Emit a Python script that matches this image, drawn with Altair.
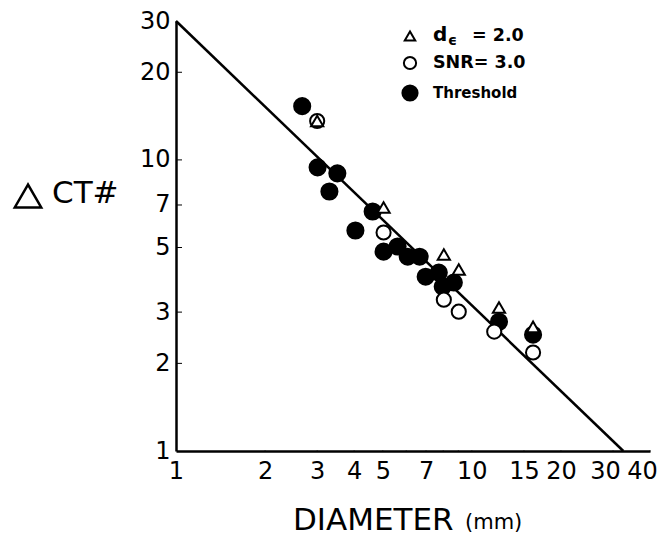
import altair as alt
import pandas as pd

# ---- data ----
tri_d  = [3.0, 5.03, 8.04, 9.03, 12.35, 16.1]
tri_ct = [13.6, 6.86, 4.73, 4.20, 3.11, 2.67]

snr_d  = [3.0, 5.03, 8.04, 9.03, 11.9, 16.1]
snr_ct = [13.6, 5.63, 3.31, 3.01, 2.57, 2.18]

thr_d  = [2.67, 3.01, 3.51, 3.30, 4.04, 4.62, 5.03, 5.61, 6.07, 6.66, 6.98, 7.73, 7.97, 8.69, 12.35, 16.1]
thr_ct = [15.3, 9.43, 8.99, 7.79, 5.72, 6.65, 4.84, 5.04, 4.65, 4.65, 3.97, 4.10, 3.67, 3.79, 2.78, 2.51]

line_d  = [1.0, 32.5]
line_ct = [30.0, 1.0]

x_labels = [1, 2, 3, 4, 5, 7, 10, 15, 20, 30, 40]
y_labels = [1, 2, 3, 5, 7, 10, 20, 30]
x_ticks = [2, 3, 4, 5, 6, 7, 8, 9, 10, 15, 20, 30, 40]
y_ticks = [2, 3, 5, 7, 10, 20]

legend_labels = ["SNR= 3.0", "Threshold"]

W, H = 474, 430
FONT = "DejaVu Sans"

xscale = alt.Scale(type="log", domain=[1, 40], nice=False)
yscale = alt.Scale(type="log", domain=[1, 30], nice=False)

xaxis = alt.Axis(values=x_labels, title=None, grid=False, ticks=False,
                 domainColor="black", domainWidth=2.5, labelColor="black",
                 labelFont=FONT, labelFontSize=24, labelPadding=8,
                 labelOverlap=False, labelFlush=False, labelBound=False,
                 labelOffset={"condition": {"test": "datum.value >= 30", "value": -8}, "value": 0},
                 format="d")
yaxis = alt.Axis(values=y_labels, title=None, grid=False, ticks=False,
                 domainColor="black", domainWidth=2.5, labelColor="black",
                 labelFont=FONT, labelFontSize=24, labelPadding=6,
                 labelOverlap=False, labelFlush=False, labelBound=False,
                 format="d")

def X(f):
    return alt.X(f, type="quantitative", scale=xscale, axis=xaxis)

def Y(f):
    return alt.Y(f, type="quantitative", scale=yscale, axis=yaxis)

line = alt.Chart(pd.DataFrame({"d": line_d, "ct": line_ct})).mark_line(
    color="black", strokeWidth=2.5).encode(x=X("d"), y=Y("ct"))

thr = alt.Chart(pd.DataFrame({"d": thr_d, "ct": thr_ct})).mark_point(
    shape="circle", filled=True, fill="black", stroke="black", size=260,
    opacity=1).encode(x=X("d"), y=Y("ct"))

snr = alt.Chart(pd.DataFrame({"d": snr_d, "ct": snr_ct})).mark_point(
    shape="circle", filled=False, fill="white", fillOpacity=1, stroke="black",
    strokeWidth=2, size=200, opacity=1).encode(x=X("d"), y=Y("ct"))

tri = alt.Chart(pd.DataFrame({"d": tri_d, "ct": tri_ct})).mark_point(
    shape="triangle-up", filled=False, fill="white", fillOpacity=1, stroke="black",
    strokeWidth=2, size=150, opacity=1).encode(x=X("d"), y=Y("ct"))

# inward tick marks drawn as thin filled bars (rect marks) sitting on the axis lines
xt = alt.Chart(pd.DataFrame({"v": x_ticks})).mark_square(
    shape="M-1,0L1,0L1,-11L-1,-11Z", color="black", filled=True, size=1, opacity=1).encode(
    x=X("v"), y=alt.value(H))
yt = alt.Chart(pd.DataFrame({"w": y_ticks})).mark_point(
    shape="M0,-1L12,-1L12,1L0,1Z", color="black", filled=True, size=1, opacity=1).encode(
    y=Y("w"), x=alt.value(0))

# ---- legend (drawn by hand, top right) ----
one = pd.DataFrame({"t": [""]})
lx, ltx = 234, 257
leg_tri = alt.Chart(one).mark_point(shape="triangle-up", stroke="black",
    strokeWidth=2, size=110, fill="white", filled=False, fillOpacity=1, opacity=1
    ).encode(x=alt.value(lx), y=alt.value(15))
leg_snr = alt.Chart(one).mark_point(shape="circle", stroke="black",
    strokeWidth=2, size=150, fill="white", filled=False, fillOpacity=1, opacity=1
    ).encode(x=alt.value(lx), y=alt.value(42))
leg_thr = alt.Chart(one).mark_point(shape="circle", stroke="black", fill="black",
    filled=True, size=230, opacity=1).encode(x=alt.value(lx), y=alt.value(72))

def txt(s, x, y, size=16, weight="bold", baseline="middle"):
    return alt.Chart(pd.DataFrame({"t": [s]})).mark_text(
        align="left", baseline=baseline, font=FONT, fontSize=size,
        fontWeight=weight, color="black").encode(
        text="t:N", x=alt.value(x), y=alt.value(y))

leg_t1 = txt("d", ltx, 14, 20)
leg_t1e = txt("\u03f5", ltx + 15, 20, 14)
leg_t1b = txt("= 2.0", ltx + 39, 15, 17.5)
leg_t2 = txt(legend_labels[0], ltx, 42, 17.5)
leg_t3 = txt(legend_labels[1], ltx, 72, 15)

# axis titles
ytri = alt.Chart(one).mark_point(shape="triangle-up", stroke="black", strokeWidth=2.5,
    size=700, fill="white", filled=False, fillOpacity=1, opacity=1).encode(
    x=alt.value(-148), y=alt.value(175))
yct = txt("CT#", -124, 173, 31, "normal")
xt1 = txt("DIAMETER", 117, 509, 31, "normal", "alphabetic")
xt2 = txt("(mm)", 289, 508, 21, "normal", "alphabetic")

chart = alt.layer(
    line, thr, snr, tri, xt, yt,
    leg_tri, leg_snr, leg_thr, leg_t1, leg_t1e, leg_t1b, leg_t2, leg_t3,
    ytri, yct, xt1, xt2
).properties(
    width=W, height=H,
    autosize=alt.AutoSizeParams(type="none"),
    padding={"left": 168, "top": 13, "right": 7, "bottom": 86},
).configure_view(strokeWidth=0)

chart.save("out.html", embed_options={"renderer": "svg", "actions": False})
